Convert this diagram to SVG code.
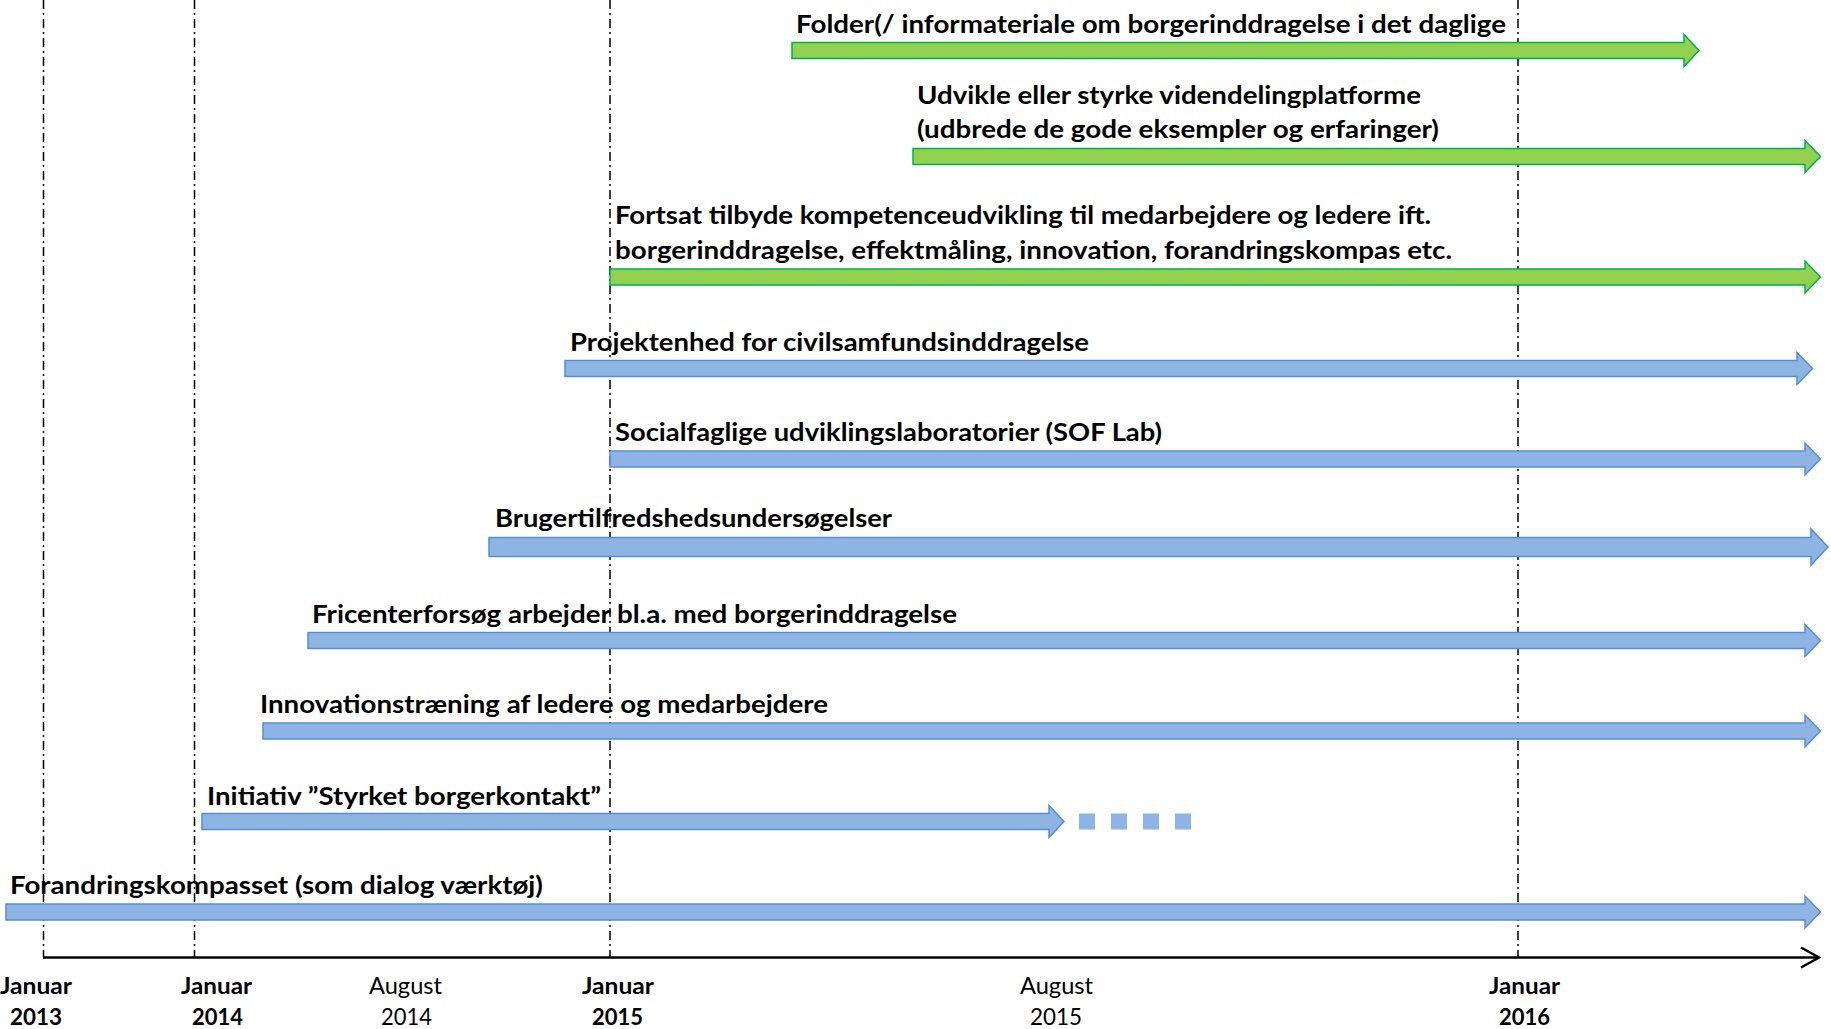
<svg xmlns="http://www.w3.org/2000/svg" width="1831" height="1029" viewBox="0 0 1831 1029">
<style>
.lbl{font-family:Lato,"Open Sans","Liberation Sans",sans-serif;font-weight:700;font-size:25.5px;fill:#000}
.ax{font-family:Lato,"Open Sans","Liberation Sans",sans-serif;font-size:23px;fill:#000}
.axb{font-weight:700}
.green{fill:#92D050;stroke:#00B050;stroke-width:1.5}
.blue{fill:#8EB4E3;stroke:#558ED5;stroke-width:1.5}
.sq{fill:#8EB4E3}
.grid{stroke:#000;stroke-width:1.5;stroke-dasharray:9 4 2 4;fill:none}
.axis{stroke:#000;stroke-width:2.5;fill:none}
</style>
<rect width="1831" height="1029" fill="#fff"/>
<g id="timeline-grid">
<line class="grid" x1="43.5" y1="0" x2="43.5" y2="957"/>
<line class="grid" x1="194.5" y1="0" x2="194.5" y2="957"/>
<line class="grid" x1="610" y1="0" x2="610" y2="957"/>
<line class="grid" x1="1518" y1="0" x2="1518" y2="957"/>
</g>
<g id="bar-folder">
<path class="green" d="M792,42.5 H1684 V34.5 L1699,50.5 L1684,66.5 V58.5 H792 Z"/>
<text class="lbl" x="796" y="33" textLength="710" lengthAdjust="spacingAndGlyphs">Folder(/ informateriale om borgerinddragelse i det daglige</text>
</g>
<g id="bar-udvikle">
<path class="green" d="M913,148.5 H1805 V140.5 L1820.5,156.5 L1805,172.5 V164.5 H913 Z"/>
<text class="lbl" x="917" y="104" textLength="504" lengthAdjust="spacingAndGlyphs">Udvikle eller styrke videndelingplatforme</text>
<text class="lbl" x="917" y="138" textLength="522" lengthAdjust="spacingAndGlyphs">(udbrede de gode eksempler og erfaringer)</text>
</g>
<g id="bar-fortsat">
<path class="green" d="M610,269 H1805 V261 L1820.5,277 L1805,293 V285 H610 Z"/>
<text class="lbl" x="615" y="224" textLength="816" lengthAdjust="spacingAndGlyphs">Fortsat tilbyde kompetenceudvikling til medarbejdere og ledere ift.</text>
<text class="lbl" x="615" y="259" textLength="837" lengthAdjust="spacingAndGlyphs">borgerinddragelse, effektmåling, innovation, forandringskompas etc.</text>
</g>
<g id="bar-projektenhed">
<path class="blue" d="M565,360.5 H1797 V352.5 L1812.5,368.5 L1797,384.5 V376.5 H565 Z"/>
<text class="lbl" x="570" y="351" textLength="519" lengthAdjust="spacingAndGlyphs">Projektenhed for civilsamfundsinddragelse</text>
</g>
<g id="bar-sof-lab">
<path class="blue" d="M610,451 H1805 V443 L1820.5,459 L1805,475 V467 H610 Z"/>
<text class="lbl" x="615" y="441" textLength="547" lengthAdjust="spacingAndGlyphs">Socialfaglige udviklingslaboratorier (SOF Lab)</text>
</g>
<g id="bar-brugertilfredshed">
<path class="blue" d="M489,537.5 H1811 V529 L1828,547 L1811,565 V556.5 H489 Z"/>
<text class="lbl" x="495" y="527" textLength="397" lengthAdjust="spacingAndGlyphs">Brugertilfredshedsundersøgelser</text>
</g>
<g id="bar-fricenter">
<path class="blue" d="M308,632.5 H1805 V624.5 L1820.5,640.5 L1805,656.5 V648.5 H308 Z"/>
<text class="lbl" x="312" y="623" textLength="645" lengthAdjust="spacingAndGlyphs">Fricenterforsøg arbejder bl.a. med borgerinddragelse</text>
</g>
<g id="bar-innovation">
<path class="blue" d="M263,723 H1805 V715 L1820.5,731 L1805,747 V739 H263 Z"/>
<text class="lbl" x="260" y="713" textLength="568" lengthAdjust="spacingAndGlyphs">Innovationstræning af ledere og medarbejdere</text>
</g>
<g id="bar-initiativ">
<path class="blue" d="M202,813.5 H1049 V805.5 L1064,821.5 L1049,837.5 V829.5 H202 Z"/>
<rect class="sq" x="1079" y="813.5" width="16" height="16"/>
<rect class="sq" x="1111" y="813.5" width="16" height="16"/>
<rect class="sq" x="1143" y="813.5" width="16" height="16"/>
<rect class="sq" x="1175" y="813.5" width="16" height="16"/>
<text class="lbl" x="207" y="805" textLength="394" lengthAdjust="spacingAndGlyphs">Initiativ ”Styrket borgerkontakt”</text>
</g>
<g id="bar-forandringskompasset">
<path class="blue" d="M6,904 H1805 V896 L1820.5,912 L1805,928 V920 H6 Z"/>
<text class="lbl" x="10" y="894" textLength="533" lengthAdjust="spacingAndGlyphs">Forandringskompasset (som dialog værktøj)</text>
</g>
<g id="connectors">
<line class="axis" x1="43" y1="957.5" x2="1818" y2="957.5"/>
<polyline class="axis" points="1801,947.5 1819,957.5 1801,967.5"/>
</g>
<g id="axis-labels">
<text class="ax axb" x="0" y="994" textLength="72" lengthAdjust="spacingAndGlyphs">Januar</text>
<text class="ax axb" x="10" y="1025" textLength="52" lengthAdjust="spacingAndGlyphs">2013</text>
<text class="ax axb" x="181" y="994" textLength="71" lengthAdjust="spacingAndGlyphs">Januar</text>
<text class="ax axb" x="192" y="1025" textLength="51" lengthAdjust="spacingAndGlyphs">2014</text>
<text class="ax" x="369" y="994" textLength="73" lengthAdjust="spacingAndGlyphs">August</text>
<text class="ax" x="381" y="1025" textLength="51" lengthAdjust="spacingAndGlyphs">2014</text>
<text class="ax axb" x="582" y="994" textLength="72" lengthAdjust="spacingAndGlyphs">Januar</text>
<text class="ax axb" x="592" y="1025" textLength="51" lengthAdjust="spacingAndGlyphs">2015</text>
<text class="ax" x="1020" y="994" textLength="73" lengthAdjust="spacingAndGlyphs">August</text>
<text class="ax" x="1030" y="1025" textLength="52" lengthAdjust="spacingAndGlyphs">2015</text>
<text class="ax axb" x="1489" y="994" textLength="71" lengthAdjust="spacingAndGlyphs">Januar</text>
<text class="ax axb" x="1499" y="1025" textLength="51" lengthAdjust="spacingAndGlyphs">2016</text>
</g>
</svg>
